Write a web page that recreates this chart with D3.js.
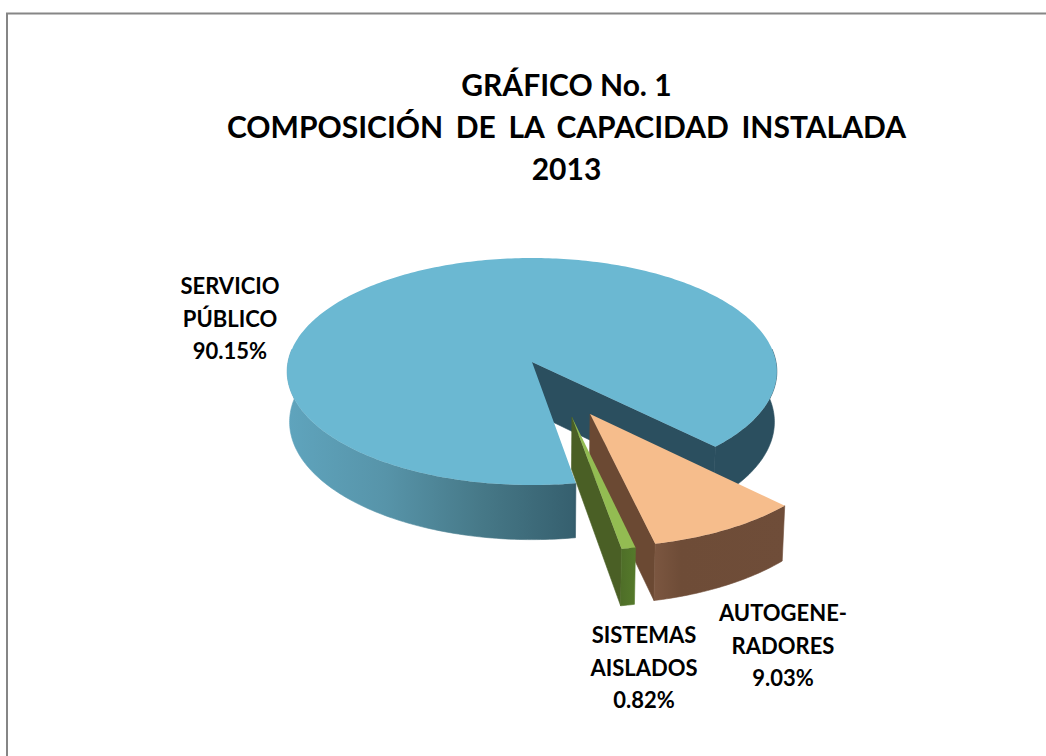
<!DOCTYPE html>
<html lang="es">
<head>
<meta charset="UTF-8">
<title>Gráfico No. 1</title>
<script src="https://cdn.jsdelivr.net/npm/d3@7"></script>
<style>
html, body { margin: 0; padding: 0; background: #fff; }
svg { display: block; }
text { font-family: Lato, "Open Sans", sans-serif; font-weight: 700; fill: #000; white-space: pre; text-anchor: middle; }
</style>
</head>
<body>
<div id="chart"></div>
<script>
const categorias = ["SERVICIO PÚBLICO", "AUTOGENERADORES", "SISTEMAS AISLADOS"]
const valores = [90.15, 9.03, 0.82]
const etiquetas = [
    ["SERVICIO", "PÚBLICO", "90.15%"],
    ["AUTOGENE-", "RADORES", "9.03%"],
    ["SISTEMAS", "AISLADOS", "0.82%"]
]
const titulo = ["GRÁFICO No. 1", "COMPOSICIÓN  DE  LA  CAPACIDAD  INSTALADA", "2013"]

// desplazamiento de cada porcion, en unidades del radio
const separacion = [[0, 0], [0.229, 0.444], [0.157, 0.469]]
const posEtiquetas = [[230, 294], [783, 621], [644, 643]]
const colorTapa = ["#6bb8d2", "#f6bd8c", "#93bc52"]
const colorInterior = ["#2b4f5f", "#6b4933", "#4a5f25"]

const width = 1046, height = 756
const cx = 532, cy = 362, rx = 244, ry = 112.7, persp = 0.084, alto = 50

const svg = d3.select("#chart").append("svg")
    .attr("width", width)
    .attr("height", height)

// marco: solo arriba e izquierda
svg.append("path")
    .attr("d", `M7,${height}V13.5H${width}`)
    .attr("fill", "none")
    .attr("stroke", "#868686")
    .attr("stroke-width", 2)

// proyeccion del disco a la pantalla
function proyectar(wx, wy, abajo) {
    const s = 1 / (1 - persp * wy)
    const k = abajo ? 0.99 : 1
    return [cx + rx * wx * s * k, cy + ry * wy * s + (abajo ? alto * s : 0)]
}

const pie = d3.pie().sort(null).startAngle(170.5 * Math.PI / 180).endAngle((170.5 + 360) * Math.PI / 180)
const porciones = pie(valores)
const linea = d3.line()

const defs = svg.append("defs")
function degradado(id, x1, x2, stops) {
    const g = defs.append("linearGradient").attr("id", id)
        .attr("gradientUnits", "userSpaceOnUse")
        .attr("x1", x1).attr("x2", x2).attr("y1", 0).attr("y2", 0)
    stops.forEach(s => g.append("stop").attr("offset", s[0]).attr("stop-color", s[1]))
}
degradado("lado0", 288, 775, [[0, "#5fa4bd"], [0.2, "#5794a9"], [0.4, "#467887"], [0.585, "#36606f"], [0.6, "#2b4f5f"], [1, "#2b4f5f"]])
degradado("lado1", 655, 787, [[0, "#7b5640"], [0.2, "#6e4c37"], [1, "#6f4d39"]])
degradado("lado2", 622, 636, [[0, "#4f6f28"], [1, "#557a2b"]])

function muestras(a0, a1) {
    const n = Math.max(2, Math.ceil((a1 - a0) * 60))
    return d3.range(n + 1).map(i => a0 + (a1 - a0) * i / n)
}

porciones.forEach((p, i) => {
    const [dx, dy] = separacion[i]
    const borde = (a, abajo) => proyectar(dx + Math.sin(a), dy - Math.cos(a), abajo)
    const g = svg.append("g").attr("class", "porcion").datum(categorias[i])

    // cara interior del corte, visible en el angulo final
    g.append("path")
        .attr("d", linea([
            proyectar(dx, dy, false), borde(p.endAngle, false),
            borde(p.endAngle, true), proyectar(dx, dy, true)
        ]) + "Z")
        .attr("fill", colorInterior[i])
        .attr("stroke", colorInterior[i])
        .attr("stroke-width", 0.6)

    // pared exterior, solo en la parte frontal del disco
    let tramos = [], actual = []
    muestras(p.startAngle, p.endAngle).forEach(a => {
        if (-Math.cos(a) > -0.12) actual.push(a)
        else if (actual.length) { tramos.push(actual); actual = [] }
    })
    if (actual.length) tramos.push(actual)
    tramos.forEach(t => {
        const puntos = t.map(a => borde(a, false)).concat(t.slice().reverse().map(a => borde(a, true)))
        g.append("path")
            .attr("d", linea(puntos) + "Z")
            .attr("fill", `url(#lado${i})`)
            .attr("stroke", `url(#lado${i})`)
            .attr("stroke-width", 0.6)
    })

    // tapa
    g.append("path")
        .attr("d", linea([proyectar(dx, dy, false)].concat(muestras(p.startAngle, p.endAngle).map(a => borde(a, false)))) + "Z")
        .attr("fill", colorTapa[i])
})

// titulo
svg.append("g").selectAll("text")
    .data(titulo)
    .enter().append("text")
    .attr("x", 566.5)
    .attr("y", (d, i) => 96 + i * 42)
    .attr("font-size", 30)
    .attr("word-spacing", (d, i) => i == 1 ? -1 : 0)
    .text(d => d)

// etiquetas
etiquetas.forEach((lineas, i) => {
    svg.append("g").selectAll("text")
        .data(lineas)
        .enter().append("text")
        .attr("x", posEtiquetas[i][0])
        .attr("y", (d, j) => posEtiquetas[i][1] + j * 32.5)
        .attr("font-size", 22)
        .text(d => d)
})
</script>
</body>
</html>
